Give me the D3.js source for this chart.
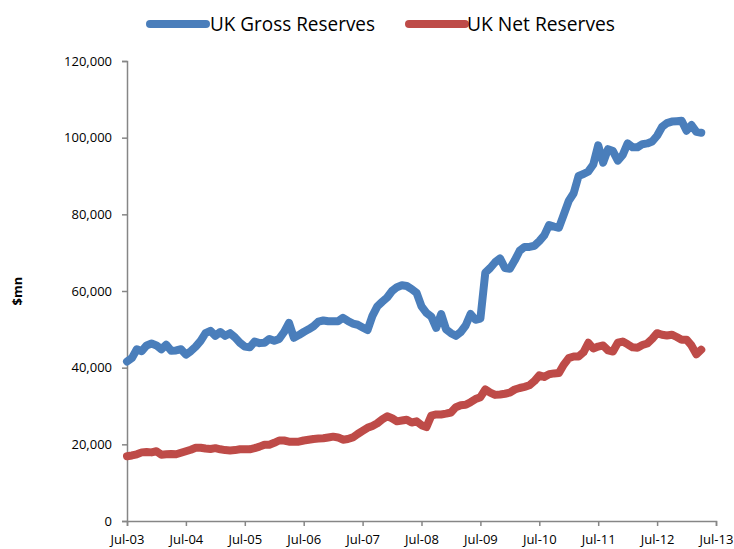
<!DOCTYPE html>
<html>
<head>
<meta charset="utf-8">
<script src="https://cdn.jsdelivr.net/npm/d3@7"></script>
<style>
  html, body { margin: 0; padding: 0; background: #ffffff; }
  svg { display: block; }
  text { font-family: "Open Sans", "Noto Sans", sans-serif; }
</style>
</head>
<body>
<div id="chart"></div>
<script>
// Monthly data from Jul-03 (index 0) onwards, $mn
const seriesNames = ["UK Gross Reserves", "UK Net Reserves"];
const seriesColors = ["#4a7ebb", "#be4b48"];

const grossReserves = [
  41600, 42500, 44800, 44300, 45800, 46300, 45800, 44800, 46000, 44400, 44500, 44800,
  43400, 44300, 45500, 47000, 49000, 49600, 48300, 49300, 48300, 49000, 47900, 46500,
  45500, 45300, 46800, 46400, 46500, 47500, 47000, 47500, 49300, 51700, 47800, 48500,
  49300, 50000, 50800, 52000, 52300, 52100, 52100, 52100, 53000, 52200, 51500, 51200,
  50500, 49800, 53500, 56000, 57200, 58300, 60000, 61000, 61500, 61300, 60500, 59500,
  56000, 54300, 53300, 50400, 54000, 50000, 49000, 48300, 49300, 51000, 54000, 52500,
  52800, 64800, 66000, 67500, 68500, 66000, 65800, 68000, 70500, 71500, 71500, 71800,
  73000, 74500, 77200, 76800, 76500, 80000, 83500, 85500, 90000, 90500, 91200, 93000,
  98000, 93500, 97000, 96500, 94000, 95500, 98500, 97500, 97500, 98300, 98500, 99000,
  100500, 102800, 103800, 104200, 104300, 104400, 101800, 103300, 101500, 101300
];

const netReserves = [
  16900, 17100, 17400, 17900, 18000, 17900, 18200, 17300, 17400, 17500, 17400, 17800,
  18200, 18600, 19100, 19100, 18900, 18800, 19000, 18700, 18500, 18400, 18500, 18700,
  18700, 18700, 19000, 19400, 19900, 19900, 20400, 21000, 21000, 20700, 20700, 20700,
  21000, 21200, 21400, 21500, 21600, 21800, 22000, 21800, 21200, 21400, 21800, 22700,
  23500, 24300, 24800, 25500, 26500, 27300, 26800, 26000, 26200, 26400, 25700, 26000,
  25000, 24500, 27500, 27800, 27800, 28000, 28300, 29700, 30200, 30300, 31000, 31800,
  32300, 34300, 33500, 32900, 33000, 33200, 33500, 34300, 34700, 35000, 35400, 36500,
  38000, 37600, 38300, 38500, 38600, 40800, 42500, 42900, 42900, 44000, 46500, 45000,
  45500, 45800, 44500, 44200, 46500, 46800, 46100, 45300, 45200, 45900, 46300, 47500,
  49000, 48600, 48400, 48600, 48000, 47300, 47300, 45800, 43500, 44700
];

const xTickLabels = ["Jul-03", "Jul-04", "Jul-05", "Jul-06", "Jul-07", "Jul-08",
                     "Jul-09", "Jul-10", "Jul-11", "Jul-12", "Jul-13"];
const yTickValues = [0, 20000, 40000, 60000, 80000, 100000, 120000];
const yAxisTitle = "$mn";

const W = 734, H = 549;
const margin = { left: 127, right: 18, top: 61, bottom: 28 };
const plotW = W - margin.left - margin.right;
const plotH = H - margin.top - margin.bottom;

const svg = d3.select("#chart").append("svg")
  .attr("width", W).attr("height", H);

const x = d3.scaleLinear().domain([0, 120]).range([margin.left, margin.left + plotW]);
const y = d3.scaleLinear().domain([0, 120000]).range([margin.top + plotH, margin.top]);

const axisColor = "#868686";

// Y axis
const yAxis = svg.append("g")
  .attr("transform", `translate(${margin.left},0)`)
  .call(d3.axisLeft(y).tickValues(yTickValues).tickSize(5).tickPadding(10)
        .tickFormat(d3.format(",")));
yAxis.select(".domain").attr("stroke", axisColor).attr("stroke-width", 1.5);
yAxis.selectAll(".tick line").attr("stroke", axisColor).attr("stroke-width", 1.5);
yAxis.selectAll(".tick text").attr("fill", "#000").style("font-size", "13px")
  .style("font-family", "'Open Sans', sans-serif");

// X axis
const xTickVals = xTickLabels.map((d, i) => i * 12);
const xAxis = svg.append("g")
  .attr("transform", `translate(0,${margin.top + plotH})`)
  .call(d3.axisBottom(x).tickValues(xTickVals).tickSize(5).tickPadding(9)
        .tickFormat((d, i) => xTickLabels[i]));
xAxis.select(".domain").attr("stroke", axisColor).attr("stroke-width", 1.5);
xAxis.selectAll(".tick line").attr("stroke", axisColor).attr("stroke-width", 1.5);
xAxis.selectAll(".tick text").attr("fill", "#000").style("font-size", "13px")
  .style("font-family", "'Open Sans', sans-serif");

// Y axis title
svg.append("text")
  .attr("transform", `translate(22,${margin.top + plotH / 2}) rotate(-90)`)
  .attr("text-anchor", "middle")
  .style("font-size", "13px").style("font-weight", "bold")
  .text(yAxisTitle);

// Lines
const line = d3.line()
  .x((d, i) => x(i))
  .y(d => y(d))
  .curve(d3.curveLinear);

[grossReserves, netReserves].forEach((data, k) => {
  svg.append("path")
    .datum(data)
    .attr("fill", "none")
    .attr("stroke", seriesColors[k])
    .attr("stroke-width", 8)
    .attr("stroke-linejoin", "round")
    .attr("stroke-linecap", "round")
    .attr("d", line);
});

// Legend
const legendItems = [
  { x0: 150, x1: 206, tx: 210, tw: 165 },
  { x0: 409, x1: 465, tx: 467, tw: 148 }
];
legendItems.forEach((it, k) => {
  svg.append("line")
    .attr("x1", it.x0).attr("x2", it.x1)
    .attr("y1", 24).attr("y2", 24)
    .attr("stroke", seriesColors[k]).attr("stroke-width", 8)
    .attr("stroke-linecap", "round");
  svg.append("text")
    .attr("x", it.tx).attr("y", 31)
    .attr("textLength", it.tw)
    .attr("lengthAdjust", "spacingAndGlyphs")
    .style("font-size", "20px")
    .text(seriesNames[k]);
});
</script>
</body>
</html>
